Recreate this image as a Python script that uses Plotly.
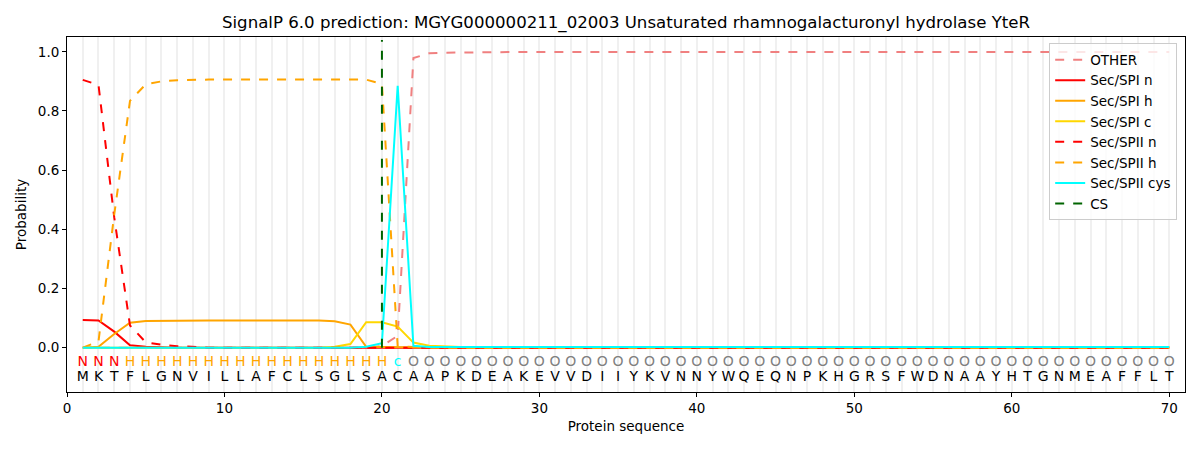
import plotly.graph_objects as go

sequence = list("MKTFLGNVILLAFCLSGLSACAAPKDEAKEVVDIIYKVNNYWQEQNPKHGRSFWDNAAYHTGNMEAFFLT")
positions = list(range(1, len(sequence) + 1))
region_labels = ["N"] * 3 + ["H"] * 17 + ["c"] + ["O"] * 49
label_colors = {"N": "red", "H": "orange", "c": "cyan", "O": "grey"}

other = [0.0] * 19 + [0.005, 0.04, 0.979, 0.995, 0.997, 0.998] + [0.999] * 45
sp1_n = [0.093, 0.092, 0.054, 0.008, 0.003, 0.001] + [0.0] * 64
sp1_h = ([0.0, 0.003, 0.046, 0.084, 0.09, 0.091] + [0.092] * 10
         + [0.089, 0.078, 0.003, 0.002, 0.001] + [0.0] * 49)
sp1_c = ([0.0] * 16 + [0.003, 0.012, 0.086, 0.086, 0.071, 0.017, 0.006, 0.003, 0.002]
         + [0.001] * 45)
sp2_n = [0.905, 0.888, 0.44, 0.075, 0.018, 0.01, 0.005, 0.002] + [0.0] * 62
sp2_h = ([0.0, 0.021, 0.45, 0.834, 0.89, 0.9, 0.904] + [0.906] * 12
         + [0.891, 0.005, 0.002] + [0.001] * 48)
sp2_cys = [0.0] * 18 + [0.003, 0.015, 0.885, 0.006] + [0.002] * 48
cs_pos = 20

fig = go.Figure()

series = [
    ("OTHER", other, "#f08080", "dash"),
    ("Sec/SPI n", sp1_n, "red", "solid"),
    ("Sec/SPI h", sp1_h, "orange", "solid"),
    ("Sec/SPI c", sp1_c, "gold", "solid"),
    ("Sec/SPII n", sp2_n, "red", "dash"),
    ("Sec/SPII h", sp2_h, "orange", "dash"),
    ("Sec/SPII cys", sp2_cys, "cyan", "solid"),
]
for name, vals, color, dash in series:
    fig.add_trace(go.Scatter(
        x=positions, y=vals, mode="lines", name=name,
        line=dict(color=color, width=2, dash=dash),
    ))

# cleavage site
fig.add_trace(go.Scatter(
    x=[cs_pos, cs_pos], y=[0, 1.04], mode="lines", name="CS",
    line=dict(color="darkgreen", width=2, dash="dash"),
))

# region labels and residues
fig.add_trace(go.Scatter(
    x=positions, y=[-0.05] * len(positions), mode="text",
    text=region_labels, showlegend=False, hoverinfo="skip",
    textfont=dict(size=14, color=[label_colors[l] for l in region_labels]),
))
fig.add_trace(go.Scatter(
    x=positions, y=[-0.10] * len(positions), mode="text",
    text=sequence, showlegend=False, hoverinfo="skip",
    textfont=dict(size=14, color="black"),
))

axis_common = dict(
    showline=True, linecolor="black", linewidth=1, mirror=True,
    ticks="outside", tickcolor="black", ticklen=4, automargin=False,
    zeroline=False, tickfont=dict(size=13.5, color="black"),
)

# page body adds an 8px offset, margins compensate for it
fig.update_layout(
    width=1200, height=450,
    margin=dict(l=59, r=23, t=29, b=66),
    paper_bgcolor="white", plot_bgcolor="white",
    font=dict(family="DejaVu Sans", color="black"),
    title=dict(
        text="SignalP 6.0 prediction: MGYG000000211_02003 Unsaturated rhamnogalacturonyl hydrolase YteR",
        x=0.5, xref="paper", xanchor="center",
        y=0.969, yref="container", yanchor="middle", font=dict(size=16.6),
    ),
    xaxis=dict(
        range=[0, 71], tickvals=list(range(0, 71, 10)),
        title=dict(text="Protein sequence", font=dict(size=13.5), standoff=6),
        showgrid=False,
        minor=dict(dtick=1, tick0=0, showgrid=True, gridcolor="#f0f0f0", gridwidth=2),
        **axis_common,
    ),
    yaxis=dict(
        range=[-0.15, 1.05], tickvals=[0, 0.2, 0.4, 0.6, 0.8, 1.0],
        ticktext=["0.0", "0.2", "0.4", "0.6", "0.8", "1.0"],
        title=dict(text="Probability", font=dict(size=13.5), standoff=8),
        showgrid=False,
        **axis_common,
    ),
    legend=dict(
        x=0.993, y=0.982, xanchor="right", yanchor="top",
        bgcolor="rgba(255,255,255,0.8)", bordercolor="#cccccc", borderwidth=1,
        font=dict(size=13.5), tracegroupgap=0,
    ),
)

fig.write_html("out.html")
